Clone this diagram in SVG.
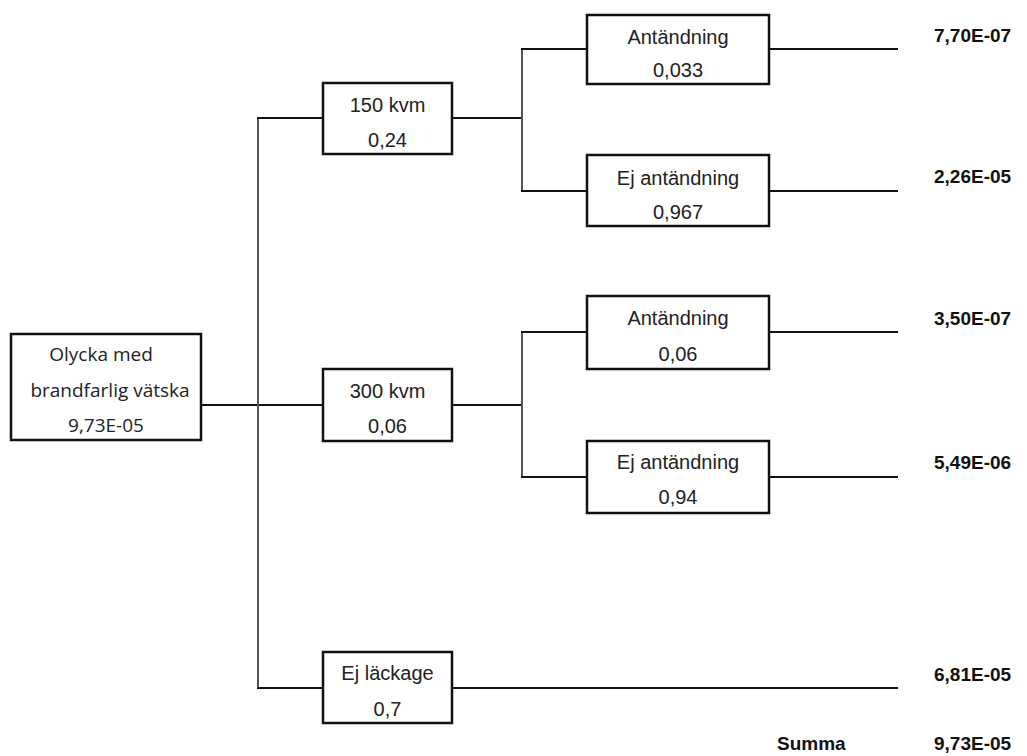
<svg xmlns="http://www.w3.org/2000/svg" width="1027" height="756" viewBox="0 0 1027 756">
<style>
.box{fill:#fff;stroke:#111;stroke-width:2.5}
.h{stroke:#111;stroke-width:2.2;fill:none}
.v{stroke:#555;stroke-width:2;fill:none}
.t{font-family:"Liberation Sans",Arial,sans-serif;font-size:20px;fill:#222;text-anchor:middle}
.r{font-family:"Open Sans","Noto Sans",sans-serif;font-size:19px;fill:#222;text-anchor:middle}
.o{font-family:"Liberation Sans",Arial,sans-serif;font-size:19px;font-weight:bold;fill:#111}
</style>
<rect width="1027" height="756" fill="#fff"/>
<g id="connectors">
<line class="h" x1="201" y1="405" x2="323" y2="405"/>
<line class="v" x1="258" y1="118" x2="258" y2="689"/>
<line class="h" x1="257" y1="118" x2="323" y2="118"/>
<line class="h" x1="257" y1="688" x2="323" y2="688"/>
<line class="h" x1="452" y1="118" x2="522" y2="118"/>
<line class="v" x1="522" y1="49" x2="522" y2="191"/>
<line class="h" x1="521" y1="49" x2="587" y2="49"/>
<line class="h" x1="521" y1="191" x2="587" y2="191"/>
<line class="h" x1="452" y1="405" x2="522" y2="405"/>
<line class="v" x1="522" y1="332" x2="522" y2="477"/>
<line class="h" x1="521" y1="332" x2="587" y2="332"/>
<line class="h" x1="521" y1="477" x2="587" y2="477"/>
<line class="h" x1="769" y1="49" x2="898" y2="49"/>
<line class="h" x1="769" y1="191" x2="898" y2="191"/>
<line class="h" x1="769" y1="332" x2="898" y2="332"/>
<line class="h" x1="769" y1="477" x2="898" y2="477"/>
<line class="h" x1="452" y1="688" x2="898" y2="688"/>
</g>
<g id="root">
<rect class="box" x="11" y="334" width="190" height="106"/>
<text class="r" x="101" y="361">Olycka med</text>
<text class="r" x="110" y="397">brandfarlig vätska</text>
<text class="r" x="106" y="432">9,73E-05</text>
</g>
<g id="n150">
<rect class="box" x="323" y="83" width="129" height="71"/>
<text class="t" x="387.5" y="112">150 kvm</text>
<text class="t" x="387.5" y="147">0,24</text>
</g>
<g id="n150a">
<rect class="box" x="587" y="15" width="182" height="69"/>
<text class="t" x="678" y="44">Antändning</text>
<text class="t" x="678" y="77">0,033</text>
</g>
<g id="n150b">
<rect class="box" x="587" y="155" width="182" height="71"/>
<text class="t" x="678" y="185">Ej antändning</text>
<text class="t" x="678" y="219">0,967</text>
</g>
<g id="n300">
<rect class="box" x="323" y="369" width="129" height="72"/>
<text class="t" x="387.5" y="398">300 kvm</text>
<text class="t" x="387.5" y="433">0,06</text>
</g>
<g id="n300a">
<rect class="box" x="587" y="296" width="182" height="73"/>
<text class="t" x="678" y="325">Antändning</text>
<text class="t" x="678" y="361">0,06</text>
</g>
<g id="n300b">
<rect class="box" x="587" y="441" width="182" height="72"/>
<text class="t" x="678" y="469">Ej antändning</text>
<text class="t" x="678" y="504">0,94</text>
</g>
<g id="nleak">
<rect class="box" x="323" y="652" width="129" height="71"/>
<text class="t" x="387.5" y="680">Ej läckage</text>
<text class="t" x="387.5" y="716">0,7</text>
</g>
<g id="results">
<text class="o" x="934" y="42">7,70E-07</text>
<text class="o" x="934" y="183">2,26E-05</text>
<text class="o" x="934" y="325">3,50E-07</text>
<text class="o" x="934" y="469">5,49E-06</text>
<text class="o" x="934" y="681">6,81E-05</text>
<text class="o" x="777" y="750">Summa</text>
<text class="o" x="934" y="750">9,73E-05</text>
</g>
</svg>
